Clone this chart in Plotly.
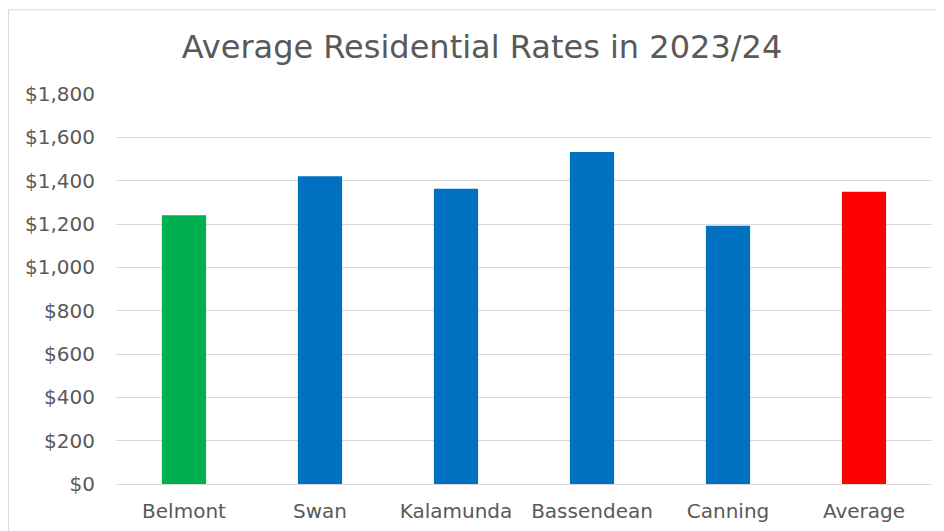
import plotly.graph_objects as go

categories = ["Belmont", "Swan", "Kalamunda", "Bassendean", "Canning", "Average"]
rates = [1240, 1420, 1363, 1532, 1192, 1349]
bar_colors = ["#00B050", "#0070C0", "#0070C0", "#0070C0", "#0070C0", "#FF0000"]
tick_vals = [0, 200, 400, 600, 800, 1000, 1200, 1400, 1600, 1800]
tick_text = ["$0", "$200", "$400", "$600", "$800", "$1,000", "$1,200", "$1,400", "$1,600", "$1,800"]

font_family = "DejaVu Sans, Verdana, sans-serif"
text_color = "#595959"

W, H = 936, 523

fig = go.Figure(
    go.Bar(
        x=categories,
        y=rates,
        marker=dict(color=bar_colors, line=dict(width=0)),
        width=0.325,
    )
)

fig.update_layout(
    width=W,
    height=H,
    paper_bgcolor="white",
    plot_bgcolor="white",
    showlegend=False,
    margin=dict(l=108, r=12, t=86, b=47),
    title=dict(
        text="Average Residential Rates in 2023/24",
        x=474 / W,
        xanchor="center",
        xref="container",
        y=1 - 39 / H,
        yref="container",
        yanchor="middle",
        font=dict(family=font_family, size=32, color=text_color),
    ),
    font=dict(family=font_family, color=text_color),
    shapes=[
        dict(
            type="rect",
            xref="paper",
            yref="paper",
            x0=-0.1317,
            x1=1.2,
            y0=-0.3,
            y1=1.216,
            line=dict(color="#d9d9d9", width=1),
            fillcolor="rgba(0,0,0,0)",
            layer="below",
        )
    ],
)

fig.update_xaxes(
    automargin=False,
    showgrid=False,
    showline=True,
    linecolor="#d9d9d9",
    linewidth=1,
    ticks="",
    tickfont=dict(family=font_family, size=20, color=text_color),
    ticklabelstandoff=9,
)

fig.update_yaxes(
    automargin=False,
    range=[0, 1800],
    tickvals=tick_vals,
    ticktext=tick_text,
    showgrid=True,
    gridcolor="#d9d9d9",
    gridwidth=1,
    zeroline=False,
    showline=False,
    ticks="",
    tickfont=dict(family=font_family, size=20, color=text_color),
    ticklabelstandoff=20,
)

fig.write_html("out.html")
